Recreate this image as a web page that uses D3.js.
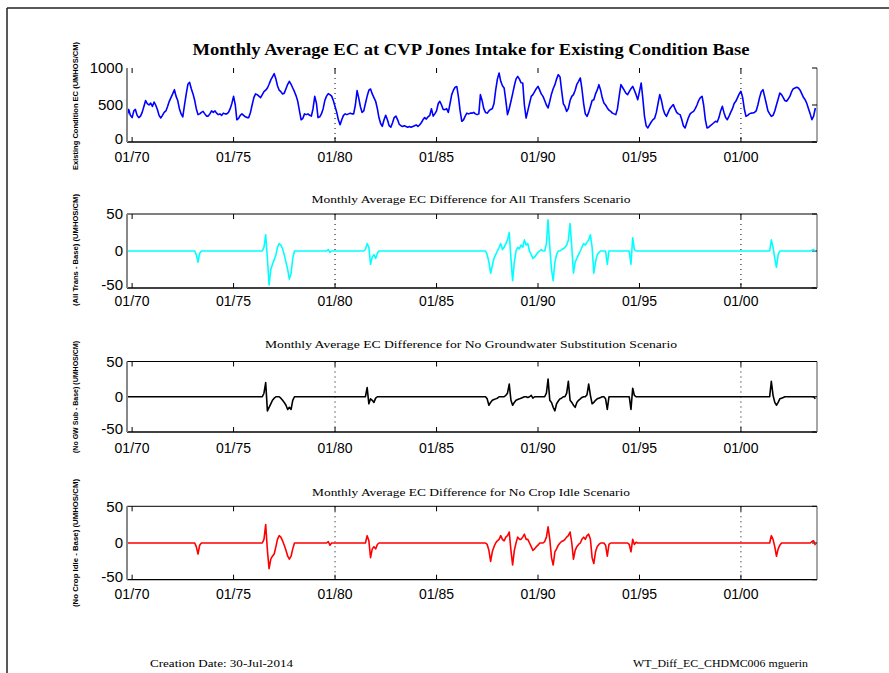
<!DOCTYPE html>
<html><head><meta charset="utf-8">
<script src="https://cdn.jsdelivr.net/npm/d3@7"></script>
<style>body{margin:0;background:#fff}svg{display:block}</style>
</head><body><svg id="c" width="889" height="673"></svg>
<script>
// Monthly values, water years Oct 1969 - Sep 2003 (12 per row)
const baseEC = [
350,440,360,330,420,440,360,330,350,400,480,560,
520,500,525,480,540,500,440,360,325,360,400,420,
480,550,600,650,707,620,560,450,380,338,500,650,
780,806,720,650,560,450,370,380,400,414,380,350,
350,380,420,400,420,390,370,380,360,390,380,380,
400,450,520,617,500,300,320,360,380,360,340,330,
330,400,500,600,650,640,620,600,640,680,700,730,
780,840,880,923,850,760,700,680,650,660,720,780,
820,780,730,680,620,550,420,300,320,380,370,380,
360,350,450,617,520,330,340,380,450,560,620,653,
640,620,560,480,400,300,234,300,360,380,370,380,
390,380,380,500,694,600,480,400,420,520,620,700,
716,650,600,550,450,330,250,212,300,360,300,220,
200,260,330,350,300,240,220,210,220,210,200,210,
200,210,220,230,210,230,260,300,330,310,340,360,
450,350,380,420,520,550,500,440,437,450,400,520,
640,700,740,750,600,420,280,300,350,390,380,390,
390,400,380,370,380,640,560,450,400,390,420,440,
450,520,700,850,932,820,760,730,560,370,450,550,
650,760,850,887,850,800,797,500,324,420,520,617,
640,680,720,752,700,650,617,560,500,460,550,650,
720,775,850,910,880,700,520,480,414,450,560,617,
640,700,780,820,865,720,520,380,347,400,480,560,
572,650,700,775,700,600,527,500,460,430,414,390,
380,370,450,620,775,740,700,660,640,680,720,752,
700,640,572,680,797,600,350,220,190,230,270,302,
320,400,520,640,560,450,380,347,400,450,480,505,
450,400,380,370,300,220,190,260,330,380,400,414,
450,500,560,600,617,500,300,190,200,220,240,260,
280,270,330,420,482,400,330,302,350,400,450,520,
550,600,650,685,600,450,347,360,380,390,392,400,
420,500,600,680,707,620,520,420,380,347,360,420,
500,580,662,640,600,560,550,580,620,680,720,730,
740,730,700,650,600,572,520,450,380,302,350,460
];
const allTransDiff = [
0,0,0,0,0,0,0,0,0,0,0,0,
0,0,0,0,0,0,0,0,0,0,0,0,
0,0,0,0,0,0,0,0,0,0,0,0,
0,0,0,0,0,-5,-15,-3,0,0,0,0,
0,0,0,0,0,0,0,0,0,0,0,0,
0,0,0,0,0,0,0,0,0,0,0,0,
0,0,0,0,0,0,0,0,0,5,22,-10,
-46,-25,-18,-12,-5,5,10,8,3,-5,-15,-25,
-38,-30,-10,0,0,0,0,0,0,0,0,0,
0,0,0,0,0,0,0,0,0,0,0,2,
-2,0,0,0,0,0,0,0,0,0,0,0,
0,0,0,0,0,0,0,0,0,2,10,5,
-18,-8,-5,-10,-3,0,0,0,0,0,0,0,
0,0,0,0,0,0,0,0,0,0,0,0,
0,0,0,0,0,0,0,0,0,0,0,0,
0,0,0,0,0,0,0,0,0,0,0,0,
0,0,0,0,0,0,0,0,0,0,0,0,
0,0,0,0,0,0,0,0,0,-5,-15,-30,
-20,-10,-5,0,5,10,2,5,10,15,25,-10,
-40,-15,0,5,3,8,5,15,8,10,0,-5,
-10,-8,-5,-2,0,2,0,0,10,42,5,-25,
-40,-15,-5,0,0,2,3,5,8,15,37,5,
-30,-15,-10,-5,0,5,10,8,12,15,22,5,
-30,-15,-5,-2,0,0,0,0,-18,0,0,0,
0,0,0,0,0,0,0,0,0,0,-18,18,
2,0,0,0,0,0,0,0,0,0,0,0,
0,0,0,0,0,0,0,0,0,0,0,0,
0,0,0,0,0,0,0,0,0,0,0,0,
0,0,0,0,0,0,0,0,0,0,0,0,
0,0,0,0,0,0,0,0,0,0,0,0,
0,0,0,0,0,0,0,0,0,0,0,0,
0,0,0,0,0,0,0,0,0,15,5,-10,
-22,-5,0,0,0,0,0,0,0,0,0,0,
0,0,0,0,0,0,0,0,0,1,2,0
];
const noGWSubDiff = [
0,0,0,0,0,0,0,0,0,0,0,0,
0,0,0,0,0,0,0,0,0,0,0,0,
0,0,0,0,0,0,0,0,0,0,0,0,
0,0,0,0,0,0,0,0,0,0,0,0,
0,0,0,0,0,0,0,0,0,0,0,0,
0,0,0,0,0,0,0,0,0,0,0,0,
0,0,0,0,0,0,0,0,0,5,20,-20,
-15,-10,-5,-2,0,0,0,-2,-5,-8,-12,-18,
-15,-18,-5,0,0,0,0,0,0,0,0,0,
0,0,0,0,0,0,0,0,0,0,0,0,
0,0,0,0,0,0,0,0,0,0,0,0,
0,0,0,0,0,0,0,0,0,0,13,-10,
-3,-5,-8,-2,0,0,0,0,0,0,0,0,
0,0,0,0,0,0,0,0,0,0,0,0,
0,0,0,0,0,0,0,0,0,0,0,0,
0,0,0,0,0,0,0,0,0,0,0,0,
0,0,0,0,0,0,0,0,0,0,0,0,
0,0,0,0,0,0,0,0,0,-3,-12,-8,
-5,-4,-3,-2,0,0,0,0,2,5,18,-5,
-12,-8,-5,-4,-3,-2,-1,0,0,-1,0,2,
-2,0,0,0,0,0,0,0,5,25,-5,-8,
-15,-20,-10,-6,-3,-2,0,0,5,22,-5,-8,
-12,-15,-8,-5,-3,-1,0,0,3,18,2,-10,
-8,-5,-3,-2,-1,0,0,-3,-18,0,0,0,
0,0,0,0,0,0,0,0,0,0,-18,12,
2,0,0,0,0,0,0,0,0,0,0,0,
0,0,0,0,0,0,0,0,0,0,0,0,
0,0,0,0,0,0,0,0,0,0,0,0,
0,0,0,0,0,0,0,0,0,0,0,0,
0,0,0,0,0,0,0,0,0,0,0,0,
0,0,0,0,0,0,0,0,0,0,0,0,
0,0,0,0,0,0,0,0,0,22,2,-8,
-12,-8,-3,-2,-1,0,0,0,0,0,0,0,
0,0,0,0,0,0,0,0,0,0,0,-3
];
const noCropIdleDiff = [
0,0,0,0,0,0,0,0,0,0,0,0,
0,0,0,0,0,0,0,0,0,0,0,0,
0,0,0,0,0,0,0,0,0,0,0,0,
0,0,0,0,0,-5,-15,-3,0,0,0,0,
0,0,0,0,0,0,0,0,0,0,0,0,
0,0,0,0,0,0,0,0,0,0,0,0,
0,0,0,0,0,0,0,0,0,5,25,-10,
-35,-22,-18,-15,-5,5,10,8,3,-3,-10,-18,
-22,-18,-8,0,0,0,0,0,0,0,0,0,
0,0,0,0,0,0,0,0,0,0,0,2,
-3,0,0,0,0,0,0,0,0,0,0,0,
0,0,0,0,0,0,0,0,0,0,10,3,
-20,-8,-5,-8,-2,0,0,0,0,0,0,0,
0,0,0,0,0,0,0,0,0,0,0,0,
0,0,0,0,0,0,0,0,0,0,0,0,
0,0,0,0,0,0,0,0,0,0,0,0,
0,0,0,0,0,0,0,0,0,0,0,0,
0,0,0,0,0,0,0,0,0,-2,-10,-25,
-12,-5,0,3,5,10,5,3,8,10,15,-10,
-30,-10,0,8,5,5,8,12,5,5,0,-5,
-10,-8,-5,-3,0,0,0,2,8,22,5,-20,
-30,-12,-8,-3,0,2,3,5,8,10,15,0,
-22,-10,-5,-2,0,5,8,5,10,12,5,-20,
-28,-12,-5,-2,0,0,0,-3,-18,-2,0,0,
0,0,0,0,0,0,0,0,0,-2,-12,5,
-2,1,0,0,0,0,0,0,0,0,0,0,
0,0,0,0,0,0,0,0,0,0,0,0,
0,0,0,0,0,0,0,0,0,0,0,0,
0,0,0,0,0,0,0,0,0,0,0,0,
0,0,0,0,0,0,0,0,0,0,0,0,
0,0,0,0,0,0,0,0,0,0,0,0,
0,0,0,0,0,0,0,0,0,10,5,-5,
-18,-8,-3,0,0,0,0,0,0,0,0,0,
0,0,0,0,0,0,0,0,0,2,3,-3
];
const tickLabels = ["01/70","01/75","01/80","01/85","01/90","01/95","01/00"];
const tickYears = [1970,1975,1980,1985,1990,1995,2000];
const gridYears = [1980,2000];
const mainTitle = "Monthly Average EC at CVP Jones Intake for Existing Condition Base";
const subTitles = [
  "Monthly Average EC Difference for All Transfers Scenario",
  "Monthly Average EC Difference for No Groundwater Substitution Scenario",
  "Monthly Average EC Difference for No Crop Idle Scenario"
];
const yLabels = [
  "Existing Condition EC (UMHOS/CM)",
  "(All Trans  -  Base) (UMHOS/CM)",
  "(No GW Sub  -  Base) (UMHOS/CM)",
  "(No Crop Idle  -  Base) (UMHOS/CM)"
];
const baseTicks = [0,500,1000];
const diffTicks = [-50,0,50];
const footerLeft = "Creation Date:  30-Jul-2014";
const footerRight = "WT_Diff_EC_CHDMC006 mguerin";

const svg = d3.select("#c");
// page border
svg.append("line").attr("x1",7).attr("y1",8).attr("x2",889).attr("y2",8).attr("stroke","#222").attr("stroke-width",1.5);
svg.append("line").attr("x1",7).attr("y1",8).attr("x2",7).attr("y2",673).attr("stroke","#222").attr("stroke-width",1.5);

const months = d3.range(baseEC.length).map(i => new Date(1969, 9 + i, 1));
const x = d3.scaleTime().domain([new Date(1969,9,1), new Date(2003,9,1)]).range([127,817]);
const L = 127, R = 817;

const panels = [
  {data: baseEC, color:"#0000ff", dom:[0,1000], ticks: baseTicks, top:68, bot:142, title: mainTitle, titleY:55, titleW:557, titleBold:true, xlab:162, ylab:yLabels[0], ylabC:106, ylabLen:128, topLine:false},
  {data: allTransDiff, color:"#00ffff", dom:[-50,50], ticks: diffTicks, top:214, bot:288, title: subTitles[0], titleY:203, titleW:319, xlab:306, ylab:yLabels[1], ylabC:250, ylabLen:112, topLine:true},
  {data: noGWSubDiff, color:"#000000", dom:[-50,50], ticks: diffTicks, top:361.5, bot:432, title: subTitles[1], titleY:348, titleW:412, xlab:453, ylab:yLabels[2], ylabC:397, ylabLen:112, topLine:true},
  {data: noCropIdleDiff, color:"#ff0000", dom:[-50,50], ticks: diffTicks, top:506.3, bot:579.7, title: subTitles[2], titleY:496, titleW:318, xlab:599, ylab:yLabels[3], ylabC:543, ylabLen:128, topLine:true}
];

panels.forEach(p => {
  const y = d3.scaleLinear().domain(p.dom).range([p.bot, p.top]);
  const g = svg.append("g");
  // title
  g.append("text").attr("x",471).attr("y",p.titleY).attr("text-anchor","middle")
    .attr("font-family","'Liberation Serif','Times New Roman',serif")
    .attr("font-size", p.titleBold ? 17 : 11).attr("font-weight", p.titleBold ? "bold" : "normal")
    .attr("textLength", p.titleW).attr("lengthAdjust","spacingAndGlyphs").text(p.title);
  // dotted grid
  gridYears.forEach(yr => {
    const gx = x(new Date(yr,0,1));
    g.append("line").attr("x1",gx).attr("x2",gx).attr("y1",p.top).attr("y2",p.bot)
      .attr("stroke","#000").attr("stroke-width",1).attr("stroke-dasharray","1,4");
  });
  // axes box
  if (p.topLine) g.append("line").attr("x1",L).attr("x2",R).attr("y1",p.top).attr("y2",p.top).attr("stroke","#000").attr("stroke-width",1);
  g.append("line").attr("x1",L).attr("x2",R).attr("y1",p.bot).attr("y2",p.bot).attr("stroke","#000").attr("stroke-width",1.3);
  g.append("line").attr("x1",R).attr("x2",R).attr("y1",p.top).attr("y2",p.bot).attr("stroke","#888").attr("stroke-width",1.5);
  // x ticks
  tickYears.forEach((yr,i) => {
    const tx = x(new Date(yr,0,1));
    g.append("line").attr("x1",tx).attr("x2",tx).attr("y1",p.bot).attr("y2",p.bot-5).attr("stroke","#000");
    g.append("line").attr("x1",tx).attr("x2",tx).attr("y1",p.top).attr("y2",p.top+5).attr("stroke","#000");
    g.append("text").attr("x",tx).attr("y",p.xlab).attr("text-anchor","middle")
      .attr("font-family","'Liberation Sans',Arial,sans-serif").attr("font-size",14).text(tickLabels[i]);
  });
  // y ticks
  p.ticks.forEach((t,k) => {
    g.append("line").attr("x1",R).attr("x2",R-5).attr("y1",y(t)).attr("y2",y(t)).attr("stroke","#000");
    g.append("text").attr("x",123).attr("y",y(t) - (k === 0 ? 3 : 0)).attr("dy","0.35em").attr("text-anchor","end")
      .attr("font-family","'Liberation Sans',Arial,sans-serif").attr("font-size",15).text(t);
  });
  // data line
  const line = d3.line().x((d,i) => x(months[i])).y(d => y(d));
  g.append("path").datum(p.data).attr("d", line).attr("fill","none")
    .attr("stroke", p.color).attr("stroke-width",1.6).attr("stroke-linejoin","round");
  // left axis (gray)
  g.append("line").attr("x1",L).attr("x2",L).attr("y1",p.top).attr("y2",p.bot).attr("stroke","#888").attr("stroke-width",2);
  // y label
  g.append("text").attr("transform",`translate(78,${p.ylabC}) rotate(-90)`).attr("text-anchor","middle")
    .attr("font-family","'Liberation Sans',Arial,sans-serif").attr("font-size",7).attr("font-weight","bold")
    .attr("textLength",p.ylabLen).attr("lengthAdjust","spacingAndGlyphs").text(p.ylab);
});

// footer
svg.append("text").attr("x",150).attr("y",667).attr("font-family","'Liberation Serif','Times New Roman',serif")
  .attr("font-size",10).attr("textLength",143).attr("lengthAdjust","spacingAndGlyphs").text(footerLeft);
svg.append("text").attr("x",633).attr("y",667).attr("font-family","'Liberation Serif','Times New Roman',serif")
  .attr("font-size",10).attr("textLength",175).attr("lengthAdjust","spacingAndGlyphs").text(footerRight);
</script></body></html>
